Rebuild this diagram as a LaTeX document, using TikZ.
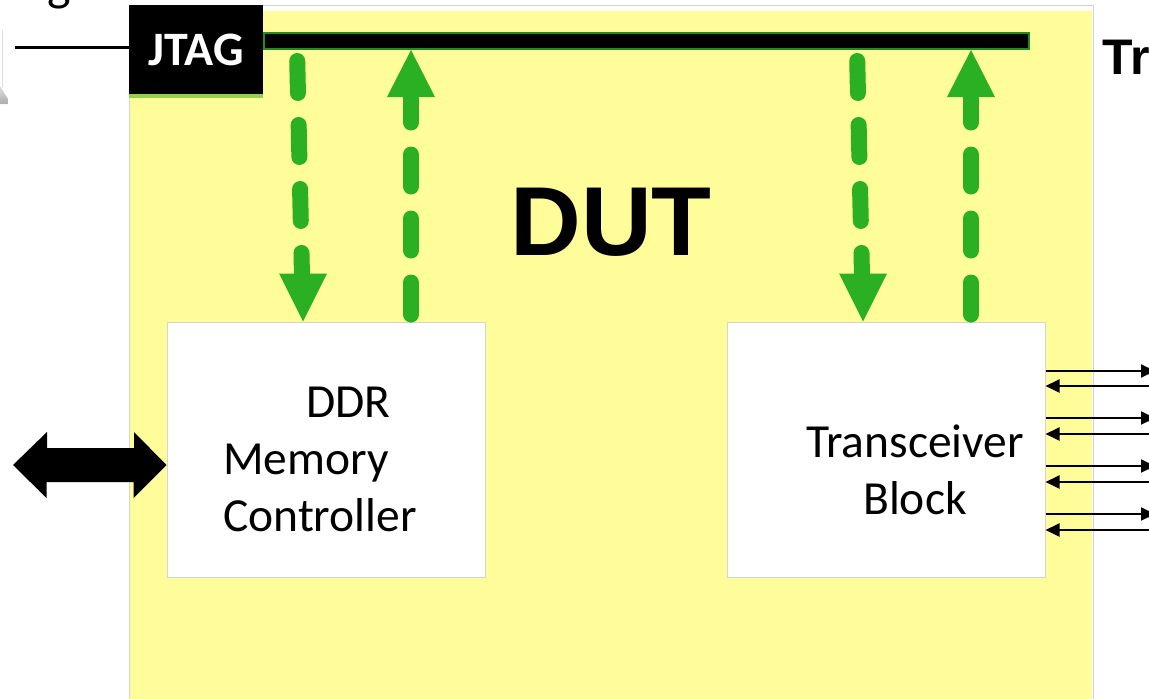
\documentclass[tikz,border=0pt]{standalone}
\usepackage{fontspec}
\setmainfont{Carlito}
\newfontfamily\headfont{Liberation Sans}
\usetikzlibrary{arrows.meta}
\definecolor{dutyellow}{HTML}{FFFD99}
\definecolor{jtaggreen}{HTML}{92D050}
\definecolor{flowgreen}{HTML}{2AB022}
\definecolor{busgreen}{HTML}{1E8C1E}
\definecolor{edgegrey}{HTML}{D4D4D4}

\begin{document}
\begin{tikzpicture}[x=1pt,y=-1pt,
  block/.style={draw=edgegrey, line width=1pt, fill=white,
    minimum width=318pt, minimum height=255pt, inner sep=0pt},
  blocktext/.style={font=\fontsize{47.5}{57}\selectfont, inner sep=0pt},
  flowdash/.style={draw=flowgreen, line width=16pt, line cap=round,
    dash pattern=on 32pt off 32pt},
  flowhead/.style={fill=flowgreen},
  sig/.style={line width=2pt, -{Triangle[length=14pt,width=13pt]}},
]
\useasboundingbox (0,0) rectangle (1149,699);
\clip (0,0) rectangle (1149,699);

% device under test
\node[draw=edgegrey, line width=1pt, fill=white, anchor=north west,
      minimum width=964pt, minimum height=720pt, inner sep=0pt] (dut) at (129,5) {};
\fill[dutyellow] (130,11) rectangle (1092,720);
\node[font=\headfont\bfseries\fontsize{98}{98}\selectfont, inner sep=0pt] (dutlabel) at (611,222) {DUT};

% JTAG port and scan bus
\node[fill=black, text=white, anchor=north west, minimum width=134pt, minimum height=89pt,
      inner sep=0pt, font=\bfseries\fontsize{48}{48}\selectfont] (jtag) at (129,5) {JTAG};
\fill[jtaggreen] (jtag.south west) rectangle ++(134,4);
\node[draw=busgreen, line width=2pt, fill=black, minimum width=765pt,
      minimum height=16pt, inner sep=0pt] (bus) at (646.5,41) {};

% host cable
\coordinate (host) at (15,47);
\draw[line width=3pt] (host) -- (host -| jtag.west);

% partly visible items at the edges
\node[font=\fontsize{50}{50}\selectfont, anchor=base, inner sep=0pt] (topg) at (59,0) {g};
\draw[gray!25, line width=1pt] (2,30) -- (2,88);
\shade[top color=gray!25, bottom color=gray!65] (0,86) -- (8,99) -- (8,104) -- (0,104) -- cycle;
\node[font=\headfont\bfseries\fontsize{50}{50}\selectfont, anchor=base west, inner sep=0pt]
      (trlabel) at (1102,74) {Tra};

% functional blocks
\node[block] (ddr) at (326,449.5) {};
\node[block] (trx) at (886,449.5) {};
\node[blocktext, align=left] (ddrtext) at (320,459) {\hspace*{83pt}DDR\\Memory\\Controller};
\node[blocktext, align=center] (trxtext) at (915,470) {Transceiver\\Block};

% scan paths between the bus and the blocks
\coordinate (ddrdowntop) at (297,0);
\coordinate (ddrdowntip) at (303,0);
\coordinate (ddrup) at (411,0);
\coordinate (trxdowntop) at (857,0);
\coordinate (trxdowntip) at (863,0);
\coordinate (trxup) at (971,0);

\draw[flowdash, dash phase=53pt, shorten >=48pt] (bus.south -| ddrdowntop) -- (ddr.north -| ddrdowntip);
\fill[flowhead] (ddr.north -| ddrdowntip) -- ++(-24,-48) -- ++(48,0) -- cycle;
\draw[flowdash, dash phase=57pt, shorten >=47pt] (ddr.north -| ddrup) -- (bus.south -| ddrup);
\fill[flowhead] (bus.south -| ddrup) -- ++(-24,47) -- ++(48,0) -- cycle;

\draw[flowdash, dash phase=53pt, shorten >=48pt] (bus.south -| trxdowntop) -- (trx.north -| trxdowntip);
\fill[flowhead] (trx.north -| trxdowntip) -- ++(-24,-48) -- ++(48,0) -- cycle;
\draw[flowdash, dash phase=57pt, shorten >=47pt] (trx.north -| trxup) -- (bus.south -| trxup);
\fill[flowhead] (bus.south -| trxup) -- ++(-24,47) -- ++(48,0) -- cycle;

% memory interface
\coordinate (memport) at (13,465);
\fill[black] (memport) -- ++(34,-33) -- ++(0,16) -- ++(87,0) -- ++(0,-16)
  -- (ddr.west |- memport) -- ++(-33,33) -- ++(0,-16) -- ++(-87,0) -- ++(0,16) -- cycle;

% serial lanes
\foreach \yo/\yi [count=\k] in {371/386, 418/434, 466/482, 514/530} {
  \coordinate (lane\k out) at (1155,\yo);
  \coordinate (lane\k in) at (1152,\yi);
  \draw[sig] (trx.east |- lane\k out) -- (lane\k out);
  \draw[sig] (lane\k in) -- (trx.east |- lane\k in);
}
\end{tikzpicture}
\end{document}
